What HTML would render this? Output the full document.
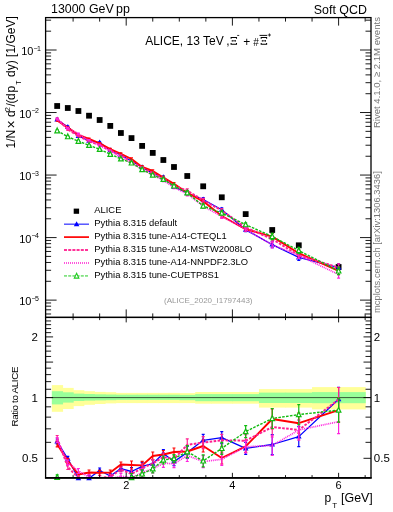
<!DOCTYPE html>
<html><head><meta charset="utf-8"><style>
html,body{margin:0;padding:0;background:#fff;}
svg{display:block;font-family:"Liberation Sans", sans-serif;will-change:transform;}
</style></head><body>
<svg width="393" height="512" viewBox="0 0 393 512">
<defs><clipPath id="cu"><rect x="45.6" y="17.6" width="325.40" height="299.80"/></clipPath><clipPath id="cl"><rect x="45.6" y="317.4" width="325.40" height="160.44"/></clipPath></defs>
<g clip-path="url(#cl)">
<rect x="51.86" y="385.10" width="11.22" height="26.70" fill="#ffff99"/>
<rect x="62.48" y="387.90" width="11.22" height="21.10" fill="#ffff99"/>
<rect x="73.10" y="390.20" width="11.22" height="15.90" fill="#ffff99"/>
<rect x="83.72" y="391.20" width="11.22" height="13.60" fill="#ffff99"/>
<rect x="94.34" y="391.90" width="11.22" height="12.10" fill="#ffff99"/>
<rect x="104.96" y="392.20" width="11.22" height="11.20" fill="#ffff99"/>
<rect x="115.58" y="392.90" width="11.22" height="10.20" fill="#ffff99"/>
<rect x="126.20" y="392.90" width="11.22" height="10.20" fill="#ffff99"/>
<rect x="136.82" y="392.90" width="11.22" height="10.20" fill="#ffff99"/>
<rect x="147.44" y="392.90" width="11.22" height="10.20" fill="#ffff99"/>
<rect x="158.06" y="392.90" width="11.22" height="10.20" fill="#ffff99"/>
<rect x="168.68" y="392.90" width="11.22" height="10.20" fill="#ffff99"/>
<rect x="179.30" y="393.10" width="16.53" height="10.00" fill="#ffff99"/>
<rect x="195.23" y="392.00" width="16.53" height="11.70" fill="#ffff99"/>
<rect x="211.16" y="392.00" width="21.84" height="11.70" fill="#ffff99"/>
<rect x="232.40" y="392.00" width="27.15" height="11.70" fill="#ffff99"/>
<rect x="258.95" y="389.10" width="27.15" height="18.50" fill="#ffff99"/>
<rect x="285.50" y="389.10" width="27.15" height="18.50" fill="#ffff99"/>
<rect x="312.05" y="387.10" width="53.70" height="22.30" fill="#ffff99"/>
<rect x="51.86" y="391.20" width="11.22" height="13.20" fill="#99ff99"/>
<rect x="62.48" y="392.30" width="11.22" height="10.30" fill="#99ff99"/>
<rect x="73.10" y="393.60" width="11.22" height="7.40" fill="#99ff99"/>
<rect x="83.72" y="394.00" width="11.22" height="6.60" fill="#99ff99"/>
<rect x="94.34" y="394.30" width="11.22" height="6.10" fill="#99ff99"/>
<rect x="104.96" y="394.50" width="11.22" height="5.70" fill="#99ff99"/>
<rect x="115.58" y="394.70" width="11.22" height="5.20" fill="#99ff99"/>
<rect x="126.20" y="394.70" width="11.22" height="5.20" fill="#99ff99"/>
<rect x="136.82" y="394.70" width="11.22" height="5.20" fill="#99ff99"/>
<rect x="147.44" y="394.70" width="11.22" height="5.20" fill="#99ff99"/>
<rect x="158.06" y="394.70" width="11.22" height="5.20" fill="#99ff99"/>
<rect x="168.68" y="394.70" width="11.22" height="5.20" fill="#99ff99"/>
<rect x="179.30" y="394.90" width="16.53" height="5.30" fill="#99ff99"/>
<rect x="195.23" y="394.10" width="16.53" height="7.10" fill="#99ff99"/>
<rect x="211.16" y="394.10" width="21.84" height="7.10" fill="#99ff99"/>
<rect x="232.40" y="394.10" width="27.15" height="7.10" fill="#99ff99"/>
<rect x="258.95" y="392.60" width="27.15" height="10.40" fill="#99ff99"/>
<rect x="285.50" y="392.60" width="27.15" height="10.40" fill="#99ff99"/>
<rect x="312.05" y="392.10" width="53.70" height="11.10" fill="#99ff99"/>
<line x1="45.6" y1="397.6" x2="371.0" y2="397.6" stroke="#000" stroke-width="1" stroke-opacity="0.65"/>
</g>
<rect x="54.27" y="103.10" width="5.8" height="5.8" fill="#000"/>
<rect x="64.89" y="105.10" width="5.8" height="5.8" fill="#000"/>
<rect x="75.51" y="108.10" width="5.8" height="5.8" fill="#000"/>
<rect x="86.13" y="112.80" width="5.8" height="5.8" fill="#000"/>
<rect x="96.75" y="117.10" width="5.8" height="5.8" fill="#000"/>
<rect x="107.37" y="123.00" width="5.8" height="5.8" fill="#000"/>
<rect x="117.99" y="130.10" width="5.8" height="5.8" fill="#000"/>
<rect x="128.61" y="135.20" width="5.8" height="5.8" fill="#000"/>
<rect x="139.23" y="143.00" width="5.8" height="5.8" fill="#000"/>
<rect x="149.85" y="150.00" width="5.8" height="5.8" fill="#000"/>
<rect x="160.47" y="157.10" width="5.8" height="5.8" fill="#000"/>
<rect x="171.09" y="164.10" width="5.8" height="5.8" fill="#000"/>
<rect x="184.36" y="173.10" width="5.8" height="5.8" fill="#000"/>
<rect x="200.29" y="183.40" width="5.8" height="5.8" fill="#000"/>
<rect x="218.88" y="194.40" width="5.8" height="5.8" fill="#000"/>
<rect x="242.78" y="211.20" width="5.8" height="5.8" fill="#000"/>
<rect x="269.33" y="227.10" width="5.8" height="5.8" fill="#000"/>
<rect x="295.88" y="242.40" width="5.8" height="5.8" fill="#000"/>
<rect x="335.70" y="264.10" width="5.8" height="5.8" fill="#000"/>
<g clip-path="url(#cl)">
<path d="M57.17,441.50 L67.79,458.80 L78.41,478.20 L89.03,478.20 L99.65,470.50 L110.27,476.00 L120.89,468.60 L131.51,471.50 L142.13,466.40 L152.75,463.70 L163.37,453.50 L173.99,461.60 L187.26,452.50 L203.19,440.30 L221.78,437.70 L245.68,448.40 L272.23,444.50 L298.78,436.60 L338.60,399.30" fill="none" stroke="#0000ff" stroke-width="1.3" stroke-linejoin="round"/>
<path d="M57.17,439.00 V444.00 M55.67,439.00 h3 M55.67,444.00 h3" stroke="#0000ff" stroke-width="1.2" fill="none"/>
<path d="M67.79,456.30 V461.30 M66.29,456.30 h3 M66.29,461.30 h3" stroke="#0000ff" stroke-width="1.2" fill="none"/>
<path d="M78.41,475.70 V480.70 M76.91,475.70 h3 M76.91,480.70 h3" stroke="#0000ff" stroke-width="1.2" fill="none"/>
<path d="M89.03,475.70 V480.70 M87.53,475.70 h3 M87.53,480.70 h3" stroke="#0000ff" stroke-width="1.2" fill="none"/>
<path d="M99.65,468.00 V473.00 M98.15,468.00 h3 M98.15,473.00 h3" stroke="#0000ff" stroke-width="1.2" fill="none"/>
<path d="M110.27,473.50 V478.50 M108.77,473.50 h3 M108.77,478.50 h3" stroke="#0000ff" stroke-width="1.2" fill="none"/>
<path d="M120.89,466.10 V471.10 M119.39,466.10 h3 M119.39,471.10 h3" stroke="#0000ff" stroke-width="1.2" fill="none"/>
<path d="M131.51,467.50 V475.50 M130.01,467.50 h3 M130.01,475.50 h3" stroke="#0000ff" stroke-width="1.2" fill="none"/>
<path d="M142.13,462.40 V470.40 M140.63,462.40 h3 M140.63,470.40 h3" stroke="#0000ff" stroke-width="1.2" fill="none"/>
<path d="M152.75,459.70 V467.70 M151.25,459.70 h3 M151.25,467.70 h3" stroke="#0000ff" stroke-width="1.2" fill="none"/>
<path d="M163.37,449.50 V457.50 M161.87,449.50 h3 M161.87,457.50 h3" stroke="#0000ff" stroke-width="1.2" fill="none"/>
<path d="M173.99,457.60 V465.60 M172.49,457.60 h3 M172.49,465.60 h3" stroke="#0000ff" stroke-width="1.2" fill="none"/>
<path d="M187.26,446.50 V458.50 M185.76,446.50 h3 M185.76,458.50 h3" stroke="#0000ff" stroke-width="1.2" fill="none"/>
<path d="M203.19,434.30 V446.30 M201.69,434.30 h3 M201.69,446.30 h3" stroke="#0000ff" stroke-width="1.2" fill="none"/>
<path d="M221.78,431.70 V443.70 M220.28,431.70 h3 M220.28,443.70 h3" stroke="#0000ff" stroke-width="1.2" fill="none"/>
<path d="M245.68,442.40 V454.40 M244.18,442.40 h3 M244.18,454.40 h3" stroke="#0000ff" stroke-width="1.2" fill="none"/>
<path d="M272.23,434.50 V454.50 M270.73,434.50 h3 M270.73,454.50 h3" stroke="#0000ff" stroke-width="1.2" fill="none"/>
<path d="M298.78,426.60 V446.60 M297.28,426.60 h3 M297.28,446.60 h3" stroke="#0000ff" stroke-width="1.2" fill="none"/>
<path d="M338.60,387.30 V411.30 M337.10,387.30 h3 M337.10,411.30 h3" stroke="#0000ff" stroke-width="1.2" fill="none"/>
</g>
<path d="M57.17,438.50 L59.97,443.50 L54.37,443.50 Z" fill="#0000ff"/>
<path d="M67.79,455.80 L70.59,460.80 L64.99,460.80 Z" fill="#0000ff"/>
<path d="M78.41,475.20 L81.21,480.20 L75.61,480.20 Z" fill="#0000ff"/>
<path d="M89.03,475.20 L91.83,480.20 L86.23,480.20 Z" fill="#0000ff"/>
<path d="M99.65,467.50 L102.45,472.50 L96.85,472.50 Z" fill="#0000ff"/>
<path d="M110.27,473.00 L113.07,478.00 L107.47,478.00 Z" fill="#0000ff"/>
<path d="M120.89,465.60 L123.69,470.60 L118.09,470.60 Z" fill="#0000ff"/>
<path d="M131.51,468.50 L134.31,473.50 L128.71,473.50 Z" fill="#0000ff"/>
<path d="M142.13,463.40 L144.93,468.40 L139.33,468.40 Z" fill="#0000ff"/>
<path d="M152.75,460.70 L155.55,465.70 L149.95,465.70 Z" fill="#0000ff"/>
<path d="M163.37,450.50 L166.17,455.50 L160.57,455.50 Z" fill="#0000ff"/>
<path d="M173.99,458.60 L176.79,463.60 L171.19,463.60 Z" fill="#0000ff"/>
<path d="M187.26,449.50 L190.06,454.50 L184.46,454.50 Z" fill="#0000ff"/>
<path d="M203.19,437.30 L206.00,442.30 L200.39,442.30 Z" fill="#0000ff"/>
<path d="M221.78,434.70 L224.58,439.70 L218.98,439.70 Z" fill="#0000ff"/>
<path d="M245.68,445.40 L248.48,450.40 L242.88,450.40 Z" fill="#0000ff"/>
<path d="M272.23,441.50 L275.03,446.50 L269.43,446.50 Z" fill="#0000ff"/>
<path d="M298.78,433.60 L301.58,438.60 L295.98,438.60 Z" fill="#0000ff"/>
<path d="M338.60,396.30 L341.40,401.30 L335.80,401.30 Z" fill="#0000ff"/>
<g clip-path="url(#cl)">
<path d="M57.17,444.30 L67.79,460.80 L78.41,474.50 L89.03,472.50 L99.65,472.80 L110.27,472.50 L120.89,464.50 L131.51,465.00 L142.13,465.40 L152.75,456.00 L163.37,454.50 L173.99,452.00 L187.26,451.50 L203.19,446.00 L221.78,458.00 L245.68,446.40 L272.23,419.00 L298.78,423.20 L338.60,410.10" fill="none" stroke="#ff0000" stroke-width="1.9" stroke-linejoin="round"/>
<path d="M57.17,441.80 V446.80 M55.67,441.80 h3 M55.67,446.80 h3" stroke="#ff0000" stroke-width="1.2" fill="none"/>
<path d="M67.79,458.30 V463.30 M66.29,458.30 h3 M66.29,463.30 h3" stroke="#ff0000" stroke-width="1.2" fill="none"/>
<path d="M78.41,472.00 V477.00 M76.91,472.00 h3 M76.91,477.00 h3" stroke="#ff0000" stroke-width="1.2" fill="none"/>
<path d="M89.03,470.00 V475.00 M87.53,470.00 h3 M87.53,475.00 h3" stroke="#ff0000" stroke-width="1.2" fill="none"/>
<path d="M99.65,470.30 V475.30 M98.15,470.30 h3 M98.15,475.30 h3" stroke="#ff0000" stroke-width="1.2" fill="none"/>
<path d="M110.27,470.00 V475.00 M108.77,470.00 h3 M108.77,475.00 h3" stroke="#ff0000" stroke-width="1.2" fill="none"/>
<path d="M120.89,462.00 V467.00 M119.39,462.00 h3 M119.39,467.00 h3" stroke="#ff0000" stroke-width="1.2" fill="none"/>
<path d="M131.51,461.00 V469.00 M130.01,461.00 h3 M130.01,469.00 h3" stroke="#ff0000" stroke-width="1.2" fill="none"/>
<path d="M142.13,461.40 V469.40 M140.63,461.40 h3 M140.63,469.40 h3" stroke="#ff0000" stroke-width="1.2" fill="none"/>
<path d="M152.75,452.00 V460.00 M151.25,452.00 h3 M151.25,460.00 h3" stroke="#ff0000" stroke-width="1.2" fill="none"/>
<path d="M163.37,450.50 V458.50 M161.87,450.50 h3 M161.87,458.50 h3" stroke="#ff0000" stroke-width="1.2" fill="none"/>
<path d="M173.99,448.00 V456.00 M172.49,448.00 h3 M172.49,456.00 h3" stroke="#ff0000" stroke-width="1.2" fill="none"/>
<path d="M187.26,445.50 V457.50 M185.76,445.50 h3 M185.76,457.50 h3" stroke="#ff0000" stroke-width="1.2" fill="none"/>
<path d="M203.19,440.00 V452.00 M201.69,440.00 h3 M201.69,452.00 h3" stroke="#ff0000" stroke-width="1.2" fill="none"/>
<path d="M221.78,452.00 V464.00 M220.28,452.00 h3 M220.28,464.00 h3" stroke="#ff0000" stroke-width="1.2" fill="none"/>
<path d="M245.68,440.40 V452.40 M244.18,440.40 h3 M244.18,452.40 h3" stroke="#ff0000" stroke-width="1.2" fill="none"/>
<path d="M272.23,409.00 V429.00 M270.73,409.00 h3 M270.73,429.00 h3" stroke="#ff0000" stroke-width="1.2" fill="none"/>
<path d="M298.78,413.20 V433.20 M297.28,413.20 h3 M297.28,433.20 h3" stroke="#ff0000" stroke-width="1.2" fill="none"/>
<path d="M338.60,398.10 V422.10 M337.10,398.10 h3 M337.10,422.10 h3" stroke="#ff0000" stroke-width="1.2" fill="none"/>
</g>
<g clip-path="url(#cl)">
<path d="M57.17,438.00 L67.79,467.00 L78.41,478.00 L89.03,480.00 L99.65,478.00 L110.27,477.00 L120.89,469.50 L131.51,474.00 L142.13,468.00 L152.75,463.50 L163.37,457.00 L173.99,459.00 L187.26,444.80 L203.19,442.60 L221.78,440.30 L245.68,440.70 L272.23,427.00 L298.78,430.00 L338.60,399.50" fill="none" stroke="#ff2090" stroke-width="2.0" stroke-dasharray="2.6,1.4" stroke-linejoin="round"/>
<path d="M57.17,435.50 V440.50 M55.67,435.50 h3 M55.67,440.50 h3" stroke="#ff2090" stroke-width="1.2" fill="none"/>
<path d="M67.79,464.50 V469.50 M66.29,464.50 h3 M66.29,469.50 h3" stroke="#ff2090" stroke-width="1.2" fill="none"/>
<path d="M78.41,475.50 V480.50 M76.91,475.50 h3 M76.91,480.50 h3" stroke="#ff2090" stroke-width="1.2" fill="none"/>
<path d="M89.03,477.50 V482.50 M87.53,477.50 h3 M87.53,482.50 h3" stroke="#ff2090" stroke-width="1.2" fill="none"/>
<path d="M99.65,475.50 V480.50 M98.15,475.50 h3 M98.15,480.50 h3" stroke="#ff2090" stroke-width="1.2" fill="none"/>
<path d="M110.27,474.50 V479.50 M108.77,474.50 h3 M108.77,479.50 h3" stroke="#ff2090" stroke-width="1.2" fill="none"/>
<path d="M120.89,467.00 V472.00 M119.39,467.00 h3 M119.39,472.00 h3" stroke="#ff2090" stroke-width="1.2" fill="none"/>
<path d="M131.51,470.00 V478.00 M130.01,470.00 h3 M130.01,478.00 h3" stroke="#ff2090" stroke-width="1.2" fill="none"/>
<path d="M142.13,464.00 V472.00 M140.63,464.00 h3 M140.63,472.00 h3" stroke="#ff2090" stroke-width="1.2" fill="none"/>
<path d="M152.75,459.50 V467.50 M151.25,459.50 h3 M151.25,467.50 h3" stroke="#ff2090" stroke-width="1.2" fill="none"/>
<path d="M163.37,453.00 V461.00 M161.87,453.00 h3 M161.87,461.00 h3" stroke="#ff2090" stroke-width="1.2" fill="none"/>
<path d="M173.99,455.00 V463.00 M172.49,455.00 h3 M172.49,463.00 h3" stroke="#ff2090" stroke-width="1.2" fill="none"/>
<path d="M187.26,438.80 V450.80 M185.76,438.80 h3 M185.76,450.80 h3" stroke="#ff2090" stroke-width="1.2" fill="none"/>
<path d="M203.19,436.60 V448.60 M201.69,436.60 h3 M201.69,448.60 h3" stroke="#ff2090" stroke-width="1.2" fill="none"/>
<path d="M221.78,434.30 V446.30 M220.28,434.30 h3 M220.28,446.30 h3" stroke="#ff2090" stroke-width="1.2" fill="none"/>
<path d="M245.68,434.70 V446.70 M244.18,434.70 h3 M244.18,446.70 h3" stroke="#ff2090" stroke-width="1.2" fill="none"/>
<path d="M272.23,417.00 V437.00 M270.73,417.00 h3 M270.73,437.00 h3" stroke="#ff2090" stroke-width="1.2" fill="none"/>
<path d="M298.78,420.00 V440.00 M297.28,420.00 h3 M297.28,440.00 h3" stroke="#ff2090" stroke-width="1.2" fill="none"/>
<path d="M338.60,387.50 V411.50 M337.10,387.50 h3 M337.10,411.50 h3" stroke="#ff2090" stroke-width="1.2" fill="none"/>
</g>
<g clip-path="url(#cl)">
<path d="M57.17,440.00 L67.79,462.60 L78.41,471.00 L89.03,477.00 L99.65,480.00 L110.27,479.00 L120.89,476.00 L131.51,478.00 L142.13,472.50 L152.75,468.90 L163.37,463.30 L173.99,463.70 L187.26,455.50 L203.19,461.60 L221.78,459.30 L245.68,446.80 L272.23,445.50 L298.78,430.00 L338.60,421.70" fill="none" stroke="#ff22dd" stroke-width="1.7" stroke-dasharray="1,0.9" stroke-linejoin="round"/>
<path d="M57.17,437.50 V442.50 M55.67,437.50 h3 M55.67,442.50 h3" stroke="#ff22dd" stroke-width="1.2" fill="none"/>
<path d="M67.79,460.10 V465.10 M66.29,460.10 h3 M66.29,465.10 h3" stroke="#ff22dd" stroke-width="1.2" fill="none"/>
<path d="M78.41,468.50 V473.50 M76.91,468.50 h3 M76.91,473.50 h3" stroke="#ff22dd" stroke-width="1.2" fill="none"/>
<path d="M89.03,474.50 V479.50 M87.53,474.50 h3 M87.53,479.50 h3" stroke="#ff22dd" stroke-width="1.2" fill="none"/>
<path d="M99.65,477.50 V482.50 M98.15,477.50 h3 M98.15,482.50 h3" stroke="#ff22dd" stroke-width="1.2" fill="none"/>
<path d="M110.27,476.50 V481.50 M108.77,476.50 h3 M108.77,481.50 h3" stroke="#ff22dd" stroke-width="1.2" fill="none"/>
<path d="M120.89,473.50 V478.50 M119.39,473.50 h3 M119.39,478.50 h3" stroke="#ff22dd" stroke-width="1.2" fill="none"/>
<path d="M131.51,474.00 V482.00 M130.01,474.00 h3 M130.01,482.00 h3" stroke="#ff22dd" stroke-width="1.2" fill="none"/>
<path d="M142.13,468.50 V476.50 M140.63,468.50 h3 M140.63,476.50 h3" stroke="#ff22dd" stroke-width="1.2" fill="none"/>
<path d="M152.75,464.90 V472.90 M151.25,464.90 h3 M151.25,472.90 h3" stroke="#ff22dd" stroke-width="1.2" fill="none"/>
<path d="M163.37,459.30 V467.30 M161.87,459.30 h3 M161.87,467.30 h3" stroke="#ff22dd" stroke-width="1.2" fill="none"/>
<path d="M173.99,459.70 V467.70 M172.49,459.70 h3 M172.49,467.70 h3" stroke="#ff22dd" stroke-width="1.2" fill="none"/>
<path d="M187.26,449.50 V461.50 M185.76,449.50 h3 M185.76,461.50 h3" stroke="#ff22dd" stroke-width="1.2" fill="none"/>
<path d="M203.19,455.60 V467.60 M201.69,455.60 h3 M201.69,467.60 h3" stroke="#ff22dd" stroke-width="1.2" fill="none"/>
<path d="M221.78,453.30 V465.30 M220.28,453.30 h3 M220.28,465.30 h3" stroke="#ff22dd" stroke-width="1.2" fill="none"/>
<path d="M245.68,440.80 V452.80 M244.18,440.80 h3 M244.18,452.80 h3" stroke="#ff22dd" stroke-width="1.2" fill="none"/>
<path d="M272.23,435.50 V455.50 M270.73,435.50 h3 M270.73,455.50 h3" stroke="#ff22dd" stroke-width="1.2" fill="none"/>
<path d="M298.78,420.00 V440.00 M297.28,420.00 h3 M297.28,440.00 h3" stroke="#ff22dd" stroke-width="1.2" fill="none"/>
<path d="M338.60,409.70 V433.70 M337.10,409.70 h3 M337.10,433.70 h3" stroke="#ff22dd" stroke-width="1.2" fill="none"/>
</g>
<g clip-path="url(#cl)">
<path d="M57.17,477.30 L67.79,490.00 L78.41,495.00 L89.03,493.00 L99.65,492.00 L110.27,489.00 L120.89,481.00 L131.51,477.50 L142.13,473.90 L152.75,468.80 L163.37,460.00 L173.99,458.60 L187.26,451.70 L203.19,460.90 L221.78,448.40 L245.68,431.60 L272.23,418.50 L298.78,414.60 L338.60,410.10" fill="none" stroke="#11bb11" stroke-width="1.4" stroke-dasharray="2.6,1.3" stroke-linejoin="round"/>
<path d="M57.17,474.80 V479.80 M55.67,474.80 h3 M55.67,479.80 h3" stroke="#11bb11" stroke-width="1.2" fill="none"/>
<path d="M67.79,487.50 V492.50 M66.29,487.50 h3 M66.29,492.50 h3" stroke="#11bb11" stroke-width="1.2" fill="none"/>
<path d="M78.41,492.50 V497.50 M76.91,492.50 h3 M76.91,497.50 h3" stroke="#11bb11" stroke-width="1.2" fill="none"/>
<path d="M89.03,490.50 V495.50 M87.53,490.50 h3 M87.53,495.50 h3" stroke="#11bb11" stroke-width="1.2" fill="none"/>
<path d="M99.65,489.50 V494.50 M98.15,489.50 h3 M98.15,494.50 h3" stroke="#11bb11" stroke-width="1.2" fill="none"/>
<path d="M110.27,486.50 V491.50 M108.77,486.50 h3 M108.77,491.50 h3" stroke="#11bb11" stroke-width="1.2" fill="none"/>
<path d="M120.89,478.50 V483.50 M119.39,478.50 h3 M119.39,483.50 h3" stroke="#11bb11" stroke-width="1.2" fill="none"/>
<path d="M131.51,473.50 V481.50 M130.01,473.50 h3 M130.01,481.50 h3" stroke="#11bb11" stroke-width="1.2" fill="none"/>
<path d="M142.13,469.90 V477.90 M140.63,469.90 h3 M140.63,477.90 h3" stroke="#11bb11" stroke-width="1.2" fill="none"/>
<path d="M152.75,464.80 V472.80 M151.25,464.80 h3 M151.25,472.80 h3" stroke="#11bb11" stroke-width="1.2" fill="none"/>
<path d="M163.37,456.00 V464.00 M161.87,456.00 h3 M161.87,464.00 h3" stroke="#11bb11" stroke-width="1.2" fill="none"/>
<path d="M173.99,454.60 V462.60 M172.49,454.60 h3 M172.49,462.60 h3" stroke="#11bb11" stroke-width="1.2" fill="none"/>
<path d="M187.26,445.70 V457.70 M185.76,445.70 h3 M185.76,457.70 h3" stroke="#11bb11" stroke-width="1.2" fill="none"/>
<path d="M203.19,454.90 V466.90 M201.69,454.90 h3 M201.69,466.90 h3" stroke="#11bb11" stroke-width="1.2" fill="none"/>
<path d="M221.78,442.40 V454.40 M220.28,442.40 h3 M220.28,454.40 h3" stroke="#11bb11" stroke-width="1.2" fill="none"/>
<path d="M245.68,425.60 V437.60 M244.18,425.60 h3 M244.18,437.60 h3" stroke="#11bb11" stroke-width="1.2" fill="none"/>
<path d="M272.23,408.50 V428.50 M270.73,408.50 h3 M270.73,428.50 h3" stroke="#11bb11" stroke-width="1.2" fill="none"/>
<path d="M298.78,404.60 V424.60 M297.28,404.60 h3 M297.28,424.60 h3" stroke="#11bb11" stroke-width="1.2" fill="none"/>
<path d="M338.60,398.10 V422.10 M337.10,398.10 h3 M337.10,422.10 h3" stroke="#11bb11" stroke-width="1.2" fill="none"/>
</g>
<path d="M57.17,474.60 L59.47,479.40 L54.87,479.40 Z" fill="#fff" stroke="#11bb11" stroke-width="1.2"/>
<path d="M131.51,474.80 L133.81,479.60 L129.21,479.60 Z" fill="#fff" stroke="#11bb11" stroke-width="1.2"/>
<path d="M142.13,471.20 L144.43,476.00 L139.83,476.00 Z" fill="#fff" stroke="#11bb11" stroke-width="1.2"/>
<path d="M152.75,466.10 L155.05,470.90 L150.45,470.90 Z" fill="#fff" stroke="#11bb11" stroke-width="1.2"/>
<path d="M163.37,457.30 L165.67,462.10 L161.07,462.10 Z" fill="#fff" stroke="#11bb11" stroke-width="1.2"/>
<path d="M173.99,455.90 L176.29,460.70 L171.69,460.70 Z" fill="#fff" stroke="#11bb11" stroke-width="1.2"/>
<path d="M187.26,449.00 L189.56,453.80 L184.96,453.80 Z" fill="#fff" stroke="#11bb11" stroke-width="1.2"/>
<path d="M203.19,458.20 L205.50,463.00 L200.89,463.00 Z" fill="#fff" stroke="#11bb11" stroke-width="1.2"/>
<path d="M221.78,445.70 L224.08,450.50 L219.48,450.50 Z" fill="#fff" stroke="#11bb11" stroke-width="1.2"/>
<path d="M245.68,428.90 L247.98,433.70 L243.38,433.70 Z" fill="#fff" stroke="#11bb11" stroke-width="1.2"/>
<path d="M272.23,415.80 L274.53,420.60 L269.93,420.60 Z" fill="#fff" stroke="#11bb11" stroke-width="1.2"/>
<path d="M298.78,411.90 L301.08,416.70 L296.48,416.70 Z" fill="#fff" stroke="#11bb11" stroke-width="1.2"/>
<path d="M338.60,407.40 L340.90,412.20 L336.30,412.20 Z" fill="#fff" stroke="#11bb11" stroke-width="1.2"/>
<g clip-path="url(#cu)">
<path d="M57.17,119.61 L67.79,126.98 L78.41,135.99 L89.03,140.69 L99.65,142.61 L110.27,150.21 L120.89,155.02 L131.51,161.02 L142.13,167.23 L152.75,173.40 L163.37,177.33 L173.99,186.85 L187.26,193.02 L203.19,199.54 L221.78,209.74 L245.68,229.85 L272.23,244.54 L298.78,257.39 L338.60,267.53" fill="none" stroke="#0000ff" stroke-width="1.3" stroke-linejoin="round"/>
<path d="M57.17,118.84 V120.39 M55.67,118.84 h3 M55.67,120.39 h3" stroke="#0000ff" stroke-width="1.2" fill="none"/>
<path d="M67.79,126.20 V127.75 M66.29,126.20 h3 M66.29,127.75 h3" stroke="#0000ff" stroke-width="1.2" fill="none"/>
<path d="M78.41,135.22 V136.77 M76.91,135.22 h3 M76.91,136.77 h3" stroke="#0000ff" stroke-width="1.2" fill="none"/>
<path d="M89.03,139.92 V141.47 M87.53,139.92 h3 M87.53,141.47 h3" stroke="#0000ff" stroke-width="1.2" fill="none"/>
<path d="M99.65,141.83 V143.38 M98.15,141.83 h3 M98.15,143.38 h3" stroke="#0000ff" stroke-width="1.2" fill="none"/>
<path d="M110.27,149.44 V150.99 M108.77,149.44 h3 M108.77,150.99 h3" stroke="#0000ff" stroke-width="1.2" fill="none"/>
<path d="M120.89,154.24 V155.79 M119.39,154.24 h3 M119.39,155.79 h3" stroke="#0000ff" stroke-width="1.2" fill="none"/>
<path d="M131.51,159.78 V162.26 M130.01,159.78 h3 M130.01,162.26 h3" stroke="#0000ff" stroke-width="1.2" fill="none"/>
<path d="M142.13,165.99 V168.47 M140.63,165.99 h3 M140.63,168.47 h3" stroke="#0000ff" stroke-width="1.2" fill="none"/>
<path d="M152.75,172.16 V174.64 M151.25,172.16 h3 M151.25,174.64 h3" stroke="#0000ff" stroke-width="1.2" fill="none"/>
<path d="M163.37,176.09 V178.57 M161.87,176.09 h3 M161.87,178.57 h3" stroke="#0000ff" stroke-width="1.2" fill="none"/>
<path d="M173.99,185.61 V188.09 M172.49,185.61 h3 M172.49,188.09 h3" stroke="#0000ff" stroke-width="1.2" fill="none"/>
<path d="M187.26,191.16 V194.88 M185.76,191.16 h3 M185.76,194.88 h3" stroke="#0000ff" stroke-width="1.2" fill="none"/>
<path d="M203.19,197.68 V201.40 M201.69,197.68 h3 M201.69,201.40 h3" stroke="#0000ff" stroke-width="1.2" fill="none"/>
<path d="M221.78,207.88 V211.60 M220.28,207.88 h3 M220.28,211.60 h3" stroke="#0000ff" stroke-width="1.2" fill="none"/>
<path d="M245.68,227.99 V231.71 M244.18,227.99 h3 M244.18,231.71 h3" stroke="#0000ff" stroke-width="1.2" fill="none"/>
<path d="M272.23,241.44 V247.64 M270.73,241.44 h3 M270.73,247.64 h3" stroke="#0000ff" stroke-width="1.2" fill="none"/>
<path d="M298.78,254.29 V260.49 M297.28,254.29 h3 M297.28,260.49 h3" stroke="#0000ff" stroke-width="1.2" fill="none"/>
<path d="M338.60,263.81 V271.25 M337.10,263.81 h3 M337.10,271.25 h3" stroke="#0000ff" stroke-width="1.2" fill="none"/>
</g>
<path d="M57.17,116.61 L59.97,121.61 L54.37,121.61 Z" fill="#0000ff"/>
<path d="M67.79,123.98 L70.59,128.98 L64.99,128.98 Z" fill="#0000ff"/>
<path d="M78.41,132.99 L81.21,137.99 L75.61,137.99 Z" fill="#0000ff"/>
<path d="M89.03,137.69 L91.83,142.69 L86.23,142.69 Z" fill="#0000ff"/>
<path d="M99.65,139.61 L102.45,144.61 L96.85,144.61 Z" fill="#0000ff"/>
<path d="M110.27,147.21 L113.07,152.21 L107.47,152.21 Z" fill="#0000ff"/>
<path d="M120.89,152.02 L123.69,157.02 L118.09,157.02 Z" fill="#0000ff"/>
<path d="M131.51,158.02 L134.31,163.02 L128.71,163.02 Z" fill="#0000ff"/>
<path d="M142.13,164.23 L144.93,169.23 L139.33,169.23 Z" fill="#0000ff"/>
<path d="M152.75,170.40 L155.55,175.40 L149.95,175.40 Z" fill="#0000ff"/>
<path d="M163.37,174.33 L166.17,179.33 L160.57,179.33 Z" fill="#0000ff"/>
<path d="M173.99,183.85 L176.79,188.85 L171.19,188.85 Z" fill="#0000ff"/>
<path d="M187.26,190.02 L190.06,195.02 L184.46,195.02 Z" fill="#0000ff"/>
<path d="M203.19,196.54 L206.00,201.54 L200.39,201.54 Z" fill="#0000ff"/>
<path d="M221.78,206.74 L224.58,211.74 L218.98,211.74 Z" fill="#0000ff"/>
<path d="M245.68,226.85 L248.48,231.85 L242.88,231.85 Z" fill="#0000ff"/>
<path d="M272.23,241.54 L275.03,246.54 L269.43,246.54 Z" fill="#0000ff"/>
<path d="M298.78,254.39 L301.58,259.39 L295.98,259.39 Z" fill="#0000ff"/>
<path d="M338.60,264.53 L341.40,269.53 L335.80,269.53 Z" fill="#0000ff"/>
<g clip-path="url(#cu)">
<path d="M57.17,120.48 L67.79,127.60 L78.41,134.85 L89.03,138.93 L99.65,143.32 L110.27,149.13 L120.89,153.75 L131.51,159.00 L142.13,166.92 L152.75,171.01 L163.37,177.64 L173.99,183.87 L187.26,192.71 L203.19,201.31 L221.78,216.03 L245.68,229.23 L272.23,236.64 L298.78,253.24 L338.60,270.88" fill="none" stroke="#ff0000" stroke-width="1.9" stroke-linejoin="round"/>
<path d="M57.17,119.71 V121.26 M55.67,119.71 h3 M55.67,121.26 h3" stroke="#ff0000" stroke-width="1.2" fill="none"/>
<path d="M67.79,126.82 V128.37 M66.29,126.82 h3 M66.29,128.37 h3" stroke="#ff0000" stroke-width="1.2" fill="none"/>
<path d="M78.41,134.07 V135.62 M76.91,134.07 h3 M76.91,135.62 h3" stroke="#ff0000" stroke-width="1.2" fill="none"/>
<path d="M89.03,138.15 V139.70 M87.53,138.15 h3 M87.53,139.70 h3" stroke="#ff0000" stroke-width="1.2" fill="none"/>
<path d="M99.65,142.54 V144.09 M98.15,142.54 h3 M98.15,144.09 h3" stroke="#ff0000" stroke-width="1.2" fill="none"/>
<path d="M110.27,148.35 V149.90 M108.77,148.35 h3 M108.77,149.90 h3" stroke="#ff0000" stroke-width="1.2" fill="none"/>
<path d="M120.89,152.97 V154.52 M119.39,152.97 h3 M119.39,154.52 h3" stroke="#ff0000" stroke-width="1.2" fill="none"/>
<path d="M131.51,157.76 V160.24 M130.01,157.76 h3 M130.01,160.24 h3" stroke="#ff0000" stroke-width="1.2" fill="none"/>
<path d="M142.13,165.68 V168.16 M140.63,165.68 h3 M140.63,168.16 h3" stroke="#ff0000" stroke-width="1.2" fill="none"/>
<path d="M152.75,169.77 V172.25 M151.25,169.77 h3 M151.25,172.25 h3" stroke="#ff0000" stroke-width="1.2" fill="none"/>
<path d="M163.37,176.40 V178.88 M161.87,176.40 h3 M161.87,178.88 h3" stroke="#ff0000" stroke-width="1.2" fill="none"/>
<path d="M173.99,182.63 V185.11 M172.49,182.63 h3 M172.49,185.11 h3" stroke="#ff0000" stroke-width="1.2" fill="none"/>
<path d="M187.26,190.85 V194.57 M185.76,190.85 h3 M185.76,194.57 h3" stroke="#ff0000" stroke-width="1.2" fill="none"/>
<path d="M203.19,199.45 V203.17 M201.69,199.45 h3 M201.69,203.17 h3" stroke="#ff0000" stroke-width="1.2" fill="none"/>
<path d="M221.78,214.17 V217.89 M220.28,214.17 h3 M220.28,217.89 h3" stroke="#ff0000" stroke-width="1.2" fill="none"/>
<path d="M245.68,227.37 V231.09 M244.18,227.37 h3 M244.18,231.09 h3" stroke="#ff0000" stroke-width="1.2" fill="none"/>
<path d="M272.23,233.54 V239.74 M270.73,233.54 h3 M270.73,239.74 h3" stroke="#ff0000" stroke-width="1.2" fill="none"/>
<path d="M298.78,250.14 V256.34 M297.28,250.14 h3 M297.28,256.34 h3" stroke="#ff0000" stroke-width="1.2" fill="none"/>
<path d="M338.60,267.16 V274.60 M337.10,267.16 h3 M337.10,274.60 h3" stroke="#ff0000" stroke-width="1.2" fill="none"/>
</g>
<g clip-path="url(#cu)">
<path d="M57.17,118.53 L67.79,129.52 L78.41,135.93 L89.03,141.25 L99.65,144.93 L110.27,150.52 L120.89,155.30 L131.51,161.79 L142.13,167.73 L152.75,173.34 L163.37,178.42 L173.99,186.04 L187.26,190.64 L203.19,200.25 L221.78,210.54 L245.68,227.47 L272.23,239.12 L298.78,255.35 L338.60,267.59" fill="none" stroke="#ff2090" stroke-width="2.0" stroke-dasharray="2.6,1.4" stroke-linejoin="round"/>
<path d="M57.17,117.75 V119.30 M55.67,117.75 h3 M55.67,119.30 h3" stroke="#ff2090" stroke-width="1.2" fill="none"/>
<path d="M67.79,128.75 V130.30 M66.29,128.75 h3 M66.29,130.30 h3" stroke="#ff2090" stroke-width="1.2" fill="none"/>
<path d="M78.41,135.16 V136.71 M76.91,135.16 h3 M76.91,136.71 h3" stroke="#ff2090" stroke-width="1.2" fill="none"/>
<path d="M89.03,140.48 V142.03 M87.53,140.48 h3 M87.53,142.03 h3" stroke="#ff2090" stroke-width="1.2" fill="none"/>
<path d="M99.65,144.16 V145.71 M98.15,144.16 h3 M98.15,145.71 h3" stroke="#ff2090" stroke-width="1.2" fill="none"/>
<path d="M110.27,149.75 V151.30 M108.77,149.75 h3 M108.77,151.30 h3" stroke="#ff2090" stroke-width="1.2" fill="none"/>
<path d="M120.89,154.52 V156.07 M119.39,154.52 h3 M119.39,156.07 h3" stroke="#ff2090" stroke-width="1.2" fill="none"/>
<path d="M131.51,160.55 V163.03 M130.01,160.55 h3 M130.01,163.03 h3" stroke="#ff2090" stroke-width="1.2" fill="none"/>
<path d="M142.13,166.49 V168.97 M140.63,166.49 h3 M140.63,168.97 h3" stroke="#ff2090" stroke-width="1.2" fill="none"/>
<path d="M152.75,172.10 V174.58 M151.25,172.10 h3 M151.25,174.58 h3" stroke="#ff2090" stroke-width="1.2" fill="none"/>
<path d="M163.37,177.18 V179.66 M161.87,177.18 h3 M161.87,179.66 h3" stroke="#ff2090" stroke-width="1.2" fill="none"/>
<path d="M173.99,184.80 V187.28 M172.49,184.80 h3 M172.49,187.28 h3" stroke="#ff2090" stroke-width="1.2" fill="none"/>
<path d="M187.26,188.78 V192.50 M185.76,188.78 h3 M185.76,192.50 h3" stroke="#ff2090" stroke-width="1.2" fill="none"/>
<path d="M203.19,198.39 V202.11 M201.69,198.39 h3 M201.69,202.11 h3" stroke="#ff2090" stroke-width="1.2" fill="none"/>
<path d="M221.78,208.68 V212.40 M220.28,208.68 h3 M220.28,212.40 h3" stroke="#ff2090" stroke-width="1.2" fill="none"/>
<path d="M245.68,225.61 V229.33 M244.18,225.61 h3 M244.18,229.33 h3" stroke="#ff2090" stroke-width="1.2" fill="none"/>
<path d="M272.23,236.02 V242.22 M270.73,236.02 h3 M270.73,242.22 h3" stroke="#ff2090" stroke-width="1.2" fill="none"/>
<path d="M298.78,252.25 V258.45 M297.28,252.25 h3 M297.28,258.45 h3" stroke="#ff2090" stroke-width="1.2" fill="none"/>
<path d="M338.60,263.87 V271.31 M337.10,263.87 h3 M337.10,271.31 h3" stroke="#ff2090" stroke-width="1.2" fill="none"/>
</g>
<g clip-path="url(#cu)">
<path d="M57.17,119.15 L67.79,128.16 L78.41,133.76 L89.03,140.32 L99.65,145.55 L110.27,151.14 L120.89,157.31 L131.51,163.03 L142.13,169.13 L152.75,175.01 L163.37,180.37 L173.99,187.50 L187.26,193.95 L203.19,206.15 L221.78,216.43 L245.68,229.36 L272.23,244.85 L298.78,255.35 L338.60,274.47" fill="none" stroke="#ff22dd" stroke-width="1.7" stroke-dasharray="1,0.9" stroke-linejoin="round"/>
<path d="M57.17,118.37 V119.92 M55.67,118.37 h3 M55.67,119.92 h3" stroke="#ff22dd" stroke-width="1.2" fill="none"/>
<path d="M67.79,127.38 V128.93 M66.29,127.38 h3 M66.29,128.93 h3" stroke="#ff22dd" stroke-width="1.2" fill="none"/>
<path d="M78.41,132.99 V134.54 M76.91,132.99 h3 M76.91,134.54 h3" stroke="#ff22dd" stroke-width="1.2" fill="none"/>
<path d="M89.03,139.55 V141.10 M87.53,139.55 h3 M87.53,141.10 h3" stroke="#ff22dd" stroke-width="1.2" fill="none"/>
<path d="M99.65,144.78 V146.33 M98.15,144.78 h3 M98.15,146.33 h3" stroke="#ff22dd" stroke-width="1.2" fill="none"/>
<path d="M110.27,150.37 V151.92 M108.77,150.37 h3 M108.77,151.92 h3" stroke="#ff22dd" stroke-width="1.2" fill="none"/>
<path d="M120.89,156.54 V158.09 M119.39,156.54 h3 M119.39,158.09 h3" stroke="#ff22dd" stroke-width="1.2" fill="none"/>
<path d="M131.51,161.79 V164.27 M130.01,161.79 h3 M130.01,164.27 h3" stroke="#ff22dd" stroke-width="1.2" fill="none"/>
<path d="M142.13,167.89 V170.37 M140.63,167.89 h3 M140.63,170.37 h3" stroke="#ff22dd" stroke-width="1.2" fill="none"/>
<path d="M152.75,173.77 V176.25 M151.25,173.77 h3 M151.25,176.25 h3" stroke="#ff22dd" stroke-width="1.2" fill="none"/>
<path d="M163.37,179.13 V181.61 M161.87,179.13 h3 M161.87,181.61 h3" stroke="#ff22dd" stroke-width="1.2" fill="none"/>
<path d="M173.99,186.26 V188.74 M172.49,186.26 h3 M172.49,188.74 h3" stroke="#ff22dd" stroke-width="1.2" fill="none"/>
<path d="M187.26,192.09 V195.81 M185.76,192.09 h3 M185.76,195.81 h3" stroke="#ff22dd" stroke-width="1.2" fill="none"/>
<path d="M203.19,204.29 V208.01 M201.69,204.29 h3 M201.69,208.01 h3" stroke="#ff22dd" stroke-width="1.2" fill="none"/>
<path d="M221.78,214.57 V218.29 M220.28,214.57 h3 M220.28,218.29 h3" stroke="#ff22dd" stroke-width="1.2" fill="none"/>
<path d="M245.68,227.50 V231.22 M244.18,227.50 h3 M244.18,231.22 h3" stroke="#ff22dd" stroke-width="1.2" fill="none"/>
<path d="M272.23,241.75 V247.95 M270.73,241.75 h3 M270.73,247.95 h3" stroke="#ff22dd" stroke-width="1.2" fill="none"/>
<path d="M298.78,252.25 V258.45 M297.28,252.25 h3 M297.28,258.45 h3" stroke="#ff22dd" stroke-width="1.2" fill="none"/>
<path d="M338.60,270.75 V278.19 M337.10,270.75 h3 M337.10,278.19 h3" stroke="#ff22dd" stroke-width="1.2" fill="none"/>
</g>
<g clip-path="url(#cu)">
<path d="M57.17,130.71 L67.79,136.65 L78.41,141.20 L89.03,145.28 L99.65,149.27 L110.27,154.24 L120.89,158.86 L131.51,162.88 L142.13,169.56 L152.75,174.98 L163.37,179.35 L173.99,185.92 L187.26,192.78 L203.19,205.93 L221.78,213.05 L245.68,224.64 L272.23,236.48 L298.78,250.57 L338.60,270.88" fill="none" stroke="#11bb11" stroke-width="1.4" stroke-dasharray="2.6,1.3" stroke-linejoin="round"/>
<path d="M57.17,129.94 V131.49 M55.67,129.94 h3 M55.67,131.49 h3" stroke="#11bb11" stroke-width="1.2" fill="none"/>
<path d="M67.79,135.88 V137.43 M66.29,135.88 h3 M66.29,137.43 h3" stroke="#11bb11" stroke-width="1.2" fill="none"/>
<path d="M78.41,140.43 V141.98 M76.91,140.43 h3 M76.91,141.98 h3" stroke="#11bb11" stroke-width="1.2" fill="none"/>
<path d="M89.03,144.51 V146.06 M87.53,144.51 h3 M87.53,146.06 h3" stroke="#11bb11" stroke-width="1.2" fill="none"/>
<path d="M99.65,148.50 V150.05 M98.15,148.50 h3 M98.15,150.05 h3" stroke="#11bb11" stroke-width="1.2" fill="none"/>
<path d="M110.27,153.47 V155.02 M108.77,153.47 h3 M108.77,155.02 h3" stroke="#11bb11" stroke-width="1.2" fill="none"/>
<path d="M120.89,158.09 V159.64 M119.39,158.09 h3 M119.39,159.64 h3" stroke="#11bb11" stroke-width="1.2" fill="none"/>
<path d="M131.51,161.64 V164.12 M130.01,161.64 h3 M130.01,164.12 h3" stroke="#11bb11" stroke-width="1.2" fill="none"/>
<path d="M142.13,168.32 V170.80 M140.63,168.32 h3 M140.63,170.80 h3" stroke="#11bb11" stroke-width="1.2" fill="none"/>
<path d="M152.75,173.74 V176.22 M151.25,173.74 h3 M151.25,176.22 h3" stroke="#11bb11" stroke-width="1.2" fill="none"/>
<path d="M163.37,178.11 V180.59 M161.87,178.11 h3 M161.87,180.59 h3" stroke="#11bb11" stroke-width="1.2" fill="none"/>
<path d="M173.99,184.68 V187.16 M172.49,184.68 h3 M172.49,187.16 h3" stroke="#11bb11" stroke-width="1.2" fill="none"/>
<path d="M187.26,190.92 V194.64 M185.76,190.92 h3 M185.76,194.64 h3" stroke="#11bb11" stroke-width="1.2" fill="none"/>
<path d="M203.19,204.07 V207.79 M201.69,204.07 h3 M201.69,207.79 h3" stroke="#11bb11" stroke-width="1.2" fill="none"/>
<path d="M221.78,211.19 V214.91 M220.28,211.19 h3 M220.28,214.91 h3" stroke="#11bb11" stroke-width="1.2" fill="none"/>
<path d="M245.68,222.78 V226.50 M244.18,222.78 h3 M244.18,226.50 h3" stroke="#11bb11" stroke-width="1.2" fill="none"/>
<path d="M272.23,233.38 V239.58 M270.73,233.38 h3 M270.73,239.58 h3" stroke="#11bb11" stroke-width="1.2" fill="none"/>
<path d="M298.78,247.47 V253.67 M297.28,247.47 h3 M297.28,253.67 h3" stroke="#11bb11" stroke-width="1.2" fill="none"/>
<path d="M338.60,267.16 V274.60 M337.10,267.16 h3 M337.10,274.60 h3" stroke="#11bb11" stroke-width="1.2" fill="none"/>
</g>
<path d="M57.17,128.01 L59.47,132.81 L54.87,132.81 Z" fill="#fff" stroke="#11bb11" stroke-width="1.2"/>
<path d="M67.79,133.95 L70.09,138.75 L65.49,138.75 Z" fill="#fff" stroke="#11bb11" stroke-width="1.2"/>
<path d="M78.41,138.50 L80.71,143.30 L76.11,143.30 Z" fill="#fff" stroke="#11bb11" stroke-width="1.2"/>
<path d="M89.03,142.58 L91.33,147.38 L86.73,147.38 Z" fill="#fff" stroke="#11bb11" stroke-width="1.2"/>
<path d="M99.65,146.57 L101.95,151.37 L97.35,151.37 Z" fill="#fff" stroke="#11bb11" stroke-width="1.2"/>
<path d="M110.27,151.54 L112.57,156.34 L107.97,156.34 Z" fill="#fff" stroke="#11bb11" stroke-width="1.2"/>
<path d="M120.89,156.16 L123.19,160.96 L118.59,160.96 Z" fill="#fff" stroke="#11bb11" stroke-width="1.2"/>
<path d="M131.51,160.18 L133.81,164.98 L129.21,164.98 Z" fill="#fff" stroke="#11bb11" stroke-width="1.2"/>
<path d="M142.13,166.86 L144.43,171.66 L139.83,171.66 Z" fill="#fff" stroke="#11bb11" stroke-width="1.2"/>
<path d="M152.75,172.28 L155.05,177.08 L150.45,177.08 Z" fill="#fff" stroke="#11bb11" stroke-width="1.2"/>
<path d="M163.37,176.65 L165.67,181.45 L161.07,181.45 Z" fill="#fff" stroke="#11bb11" stroke-width="1.2"/>
<path d="M173.99,183.22 L176.29,188.02 L171.69,188.02 Z" fill="#fff" stroke="#11bb11" stroke-width="1.2"/>
<path d="M187.26,190.08 L189.56,194.88 L184.96,194.88 Z" fill="#fff" stroke="#11bb11" stroke-width="1.2"/>
<path d="M203.19,203.23 L205.50,208.03 L200.89,208.03 Z" fill="#fff" stroke="#11bb11" stroke-width="1.2"/>
<path d="M221.78,210.35 L224.08,215.15 L219.48,215.15 Z" fill="#fff" stroke="#11bb11" stroke-width="1.2"/>
<path d="M245.68,221.94 L247.98,226.74 L243.38,226.74 Z" fill="#fff" stroke="#11bb11" stroke-width="1.2"/>
<path d="M272.23,233.78 L274.53,238.58 L269.93,238.58 Z" fill="#fff" stroke="#11bb11" stroke-width="1.2"/>
<path d="M298.78,247.87 L301.08,252.67 L296.48,252.67 Z" fill="#fff" stroke="#11bb11" stroke-width="1.2"/>
<path d="M338.60,268.18 L340.90,272.98 L336.30,272.98 Z" fill="#fff" stroke="#11bb11" stroke-width="1.2"/>
<rect x="73.70" y="208.60" width="5.4" height="5.2" fill="#000"/>
<line x1="64" y1="224.15" x2="89" y2="224.15" stroke="#0000ff" stroke-width="1.0"/>
<path d="M76.60,221.15 L79.40,226.15 L73.80,226.15 Z" fill="#0000ff"/>
<line x1="64" y1="237.10" x2="89" y2="237.10" stroke="#ff0000" stroke-width="1.7"/>
<line x1="64" y1="250.05" x2="89" y2="250.05" stroke="#ff3399" stroke-width="2.0" stroke-dasharray="3,1.2"/>
<line x1="64" y1="263.00" x2="89" y2="263.00" stroke="#ff55dd" stroke-width="2.0" stroke-dasharray="1,1"/>
<line x1="64" y1="275.95" x2="89" y2="275.95" stroke="#22cc22" stroke-width="1.0" stroke-dasharray="3,1.2"/>
<path d="M76.60,273.25 L78.90,278.15 L74.30,278.15 Z" fill="#fff" stroke="#22cc22" stroke-width="1.1"/>
<line x1="45.60" y1="313.99" x2="51.10" y2="313.99" stroke="#000" stroke-width="0.9"/>
<line x1="371.00" y1="313.99" x2="365.50" y2="313.99" stroke="#000" stroke-width="0.9"/>
<line x1="45.60" y1="309.81" x2="51.10" y2="309.81" stroke="#000" stroke-width="0.9"/>
<line x1="371.00" y1="309.81" x2="365.50" y2="309.81" stroke="#000" stroke-width="0.9"/>
<line x1="45.60" y1="306.18" x2="51.10" y2="306.18" stroke="#000" stroke-width="0.9"/>
<line x1="371.00" y1="306.18" x2="365.50" y2="306.18" stroke="#000" stroke-width="0.9"/>
<line x1="45.60" y1="302.98" x2="51.10" y2="302.98" stroke="#000" stroke-width="0.9"/>
<line x1="371.00" y1="302.98" x2="365.50" y2="302.98" stroke="#000" stroke-width="0.9"/>
<line x1="45.60" y1="300.12" x2="56.60" y2="300.12" stroke="#000" stroke-width="0.9"/>
<line x1="371.00" y1="300.12" x2="360.00" y2="300.12" stroke="#000" stroke-width="0.9"/>
<line x1="45.60" y1="281.30" x2="51.10" y2="281.30" stroke="#000" stroke-width="0.9"/>
<line x1="371.00" y1="281.30" x2="365.50" y2="281.30" stroke="#000" stroke-width="0.9"/>
<line x1="45.60" y1="270.29" x2="51.10" y2="270.29" stroke="#000" stroke-width="0.9"/>
<line x1="371.00" y1="270.29" x2="365.50" y2="270.29" stroke="#000" stroke-width="0.9"/>
<line x1="45.60" y1="262.47" x2="51.10" y2="262.47" stroke="#000" stroke-width="0.9"/>
<line x1="371.00" y1="262.47" x2="365.50" y2="262.47" stroke="#000" stroke-width="0.9"/>
<line x1="45.60" y1="256.41" x2="51.10" y2="256.41" stroke="#000" stroke-width="0.9"/>
<line x1="371.00" y1="256.41" x2="365.50" y2="256.41" stroke="#000" stroke-width="0.9"/>
<line x1="45.60" y1="251.46" x2="51.10" y2="251.46" stroke="#000" stroke-width="0.9"/>
<line x1="371.00" y1="251.46" x2="365.50" y2="251.46" stroke="#000" stroke-width="0.9"/>
<line x1="45.60" y1="247.28" x2="51.10" y2="247.28" stroke="#000" stroke-width="0.9"/>
<line x1="371.00" y1="247.28" x2="365.50" y2="247.28" stroke="#000" stroke-width="0.9"/>
<line x1="45.60" y1="243.65" x2="51.10" y2="243.65" stroke="#000" stroke-width="0.9"/>
<line x1="371.00" y1="243.65" x2="365.50" y2="243.65" stroke="#000" stroke-width="0.9"/>
<line x1="45.60" y1="240.45" x2="51.10" y2="240.45" stroke="#000" stroke-width="0.9"/>
<line x1="371.00" y1="240.45" x2="365.50" y2="240.45" stroke="#000" stroke-width="0.9"/>
<line x1="45.60" y1="237.59" x2="56.60" y2="237.59" stroke="#000" stroke-width="0.9"/>
<line x1="371.00" y1="237.59" x2="360.00" y2="237.59" stroke="#000" stroke-width="0.9"/>
<line x1="45.60" y1="218.77" x2="51.10" y2="218.77" stroke="#000" stroke-width="0.9"/>
<line x1="371.00" y1="218.77" x2="365.50" y2="218.77" stroke="#000" stroke-width="0.9"/>
<line x1="45.60" y1="207.76" x2="51.10" y2="207.76" stroke="#000" stroke-width="0.9"/>
<line x1="371.00" y1="207.76" x2="365.50" y2="207.76" stroke="#000" stroke-width="0.9"/>
<line x1="45.60" y1="199.94" x2="51.10" y2="199.94" stroke="#000" stroke-width="0.9"/>
<line x1="371.00" y1="199.94" x2="365.50" y2="199.94" stroke="#000" stroke-width="0.9"/>
<line x1="45.60" y1="193.88" x2="51.10" y2="193.88" stroke="#000" stroke-width="0.9"/>
<line x1="371.00" y1="193.88" x2="365.50" y2="193.88" stroke="#000" stroke-width="0.9"/>
<line x1="45.60" y1="188.93" x2="51.10" y2="188.93" stroke="#000" stroke-width="0.9"/>
<line x1="371.00" y1="188.93" x2="365.50" y2="188.93" stroke="#000" stroke-width="0.9"/>
<line x1="45.60" y1="184.75" x2="51.10" y2="184.75" stroke="#000" stroke-width="0.9"/>
<line x1="371.00" y1="184.75" x2="365.50" y2="184.75" stroke="#000" stroke-width="0.9"/>
<line x1="45.60" y1="181.12" x2="51.10" y2="181.12" stroke="#000" stroke-width="0.9"/>
<line x1="371.00" y1="181.12" x2="365.50" y2="181.12" stroke="#000" stroke-width="0.9"/>
<line x1="45.60" y1="177.92" x2="51.10" y2="177.92" stroke="#000" stroke-width="0.9"/>
<line x1="371.00" y1="177.92" x2="365.50" y2="177.92" stroke="#000" stroke-width="0.9"/>
<line x1="45.60" y1="175.06" x2="56.60" y2="175.06" stroke="#000" stroke-width="0.9"/>
<line x1="371.00" y1="175.06" x2="360.00" y2="175.06" stroke="#000" stroke-width="0.9"/>
<line x1="45.60" y1="156.24" x2="51.10" y2="156.24" stroke="#000" stroke-width="0.9"/>
<line x1="371.00" y1="156.24" x2="365.50" y2="156.24" stroke="#000" stroke-width="0.9"/>
<line x1="45.60" y1="145.23" x2="51.10" y2="145.23" stroke="#000" stroke-width="0.9"/>
<line x1="371.00" y1="145.23" x2="365.50" y2="145.23" stroke="#000" stroke-width="0.9"/>
<line x1="45.60" y1="137.41" x2="51.10" y2="137.41" stroke="#000" stroke-width="0.9"/>
<line x1="371.00" y1="137.41" x2="365.50" y2="137.41" stroke="#000" stroke-width="0.9"/>
<line x1="45.60" y1="131.35" x2="51.10" y2="131.35" stroke="#000" stroke-width="0.9"/>
<line x1="371.00" y1="131.35" x2="365.50" y2="131.35" stroke="#000" stroke-width="0.9"/>
<line x1="45.60" y1="126.40" x2="51.10" y2="126.40" stroke="#000" stroke-width="0.9"/>
<line x1="371.00" y1="126.40" x2="365.50" y2="126.40" stroke="#000" stroke-width="0.9"/>
<line x1="45.60" y1="122.22" x2="51.10" y2="122.22" stroke="#000" stroke-width="0.9"/>
<line x1="371.00" y1="122.22" x2="365.50" y2="122.22" stroke="#000" stroke-width="0.9"/>
<line x1="45.60" y1="118.59" x2="51.10" y2="118.59" stroke="#000" stroke-width="0.9"/>
<line x1="371.00" y1="118.59" x2="365.50" y2="118.59" stroke="#000" stroke-width="0.9"/>
<line x1="45.60" y1="115.39" x2="51.10" y2="115.39" stroke="#000" stroke-width="0.9"/>
<line x1="371.00" y1="115.39" x2="365.50" y2="115.39" stroke="#000" stroke-width="0.9"/>
<line x1="45.60" y1="112.53" x2="56.60" y2="112.53" stroke="#000" stroke-width="0.9"/>
<line x1="371.00" y1="112.53" x2="360.00" y2="112.53" stroke="#000" stroke-width="0.9"/>
<line x1="45.60" y1="93.71" x2="51.10" y2="93.71" stroke="#000" stroke-width="0.9"/>
<line x1="371.00" y1="93.71" x2="365.50" y2="93.71" stroke="#000" stroke-width="0.9"/>
<line x1="45.60" y1="82.70" x2="51.10" y2="82.70" stroke="#000" stroke-width="0.9"/>
<line x1="371.00" y1="82.70" x2="365.50" y2="82.70" stroke="#000" stroke-width="0.9"/>
<line x1="45.60" y1="74.88" x2="51.10" y2="74.88" stroke="#000" stroke-width="0.9"/>
<line x1="371.00" y1="74.88" x2="365.50" y2="74.88" stroke="#000" stroke-width="0.9"/>
<line x1="45.60" y1="68.82" x2="51.10" y2="68.82" stroke="#000" stroke-width="0.9"/>
<line x1="371.00" y1="68.82" x2="365.50" y2="68.82" stroke="#000" stroke-width="0.9"/>
<line x1="45.60" y1="63.87" x2="51.10" y2="63.87" stroke="#000" stroke-width="0.9"/>
<line x1="371.00" y1="63.87" x2="365.50" y2="63.87" stroke="#000" stroke-width="0.9"/>
<line x1="45.60" y1="59.69" x2="51.10" y2="59.69" stroke="#000" stroke-width="0.9"/>
<line x1="371.00" y1="59.69" x2="365.50" y2="59.69" stroke="#000" stroke-width="0.9"/>
<line x1="45.60" y1="56.06" x2="51.10" y2="56.06" stroke="#000" stroke-width="0.9"/>
<line x1="371.00" y1="56.06" x2="365.50" y2="56.06" stroke="#000" stroke-width="0.9"/>
<line x1="45.60" y1="52.86" x2="51.10" y2="52.86" stroke="#000" stroke-width="0.9"/>
<line x1="371.00" y1="52.86" x2="365.50" y2="52.86" stroke="#000" stroke-width="0.9"/>
<line x1="45.60" y1="50.00" x2="56.60" y2="50.00" stroke="#000" stroke-width="0.9"/>
<line x1="371.00" y1="50.00" x2="360.00" y2="50.00" stroke="#000" stroke-width="0.9"/>
<line x1="45.60" y1="31.18" x2="51.10" y2="31.18" stroke="#000" stroke-width="0.9"/>
<line x1="371.00" y1="31.18" x2="365.50" y2="31.18" stroke="#000" stroke-width="0.9"/>
<line x1="45.60" y1="20.17" x2="51.10" y2="20.17" stroke="#000" stroke-width="0.9"/>
<line x1="371.00" y1="20.17" x2="365.50" y2="20.17" stroke="#000" stroke-width="0.9"/>
<line x1="45.60" y1="458.30" x2="53.10" y2="458.30" stroke="#000" stroke-width="0.9"/>
<line x1="371.00" y1="458.30" x2="363.50" y2="458.30" stroke="#000" stroke-width="0.9"/>
<line x1="45.60" y1="442.33" x2="51.10" y2="442.33" stroke="#000" stroke-width="0.9"/>
<line x1="371.00" y1="442.33" x2="365.50" y2="442.33" stroke="#000" stroke-width="0.9"/>
<line x1="45.60" y1="428.83" x2="51.10" y2="428.83" stroke="#000" stroke-width="0.9"/>
<line x1="371.00" y1="428.83" x2="365.50" y2="428.83" stroke="#000" stroke-width="0.9"/>
<line x1="45.60" y1="417.14" x2="51.10" y2="417.14" stroke="#000" stroke-width="0.9"/>
<line x1="371.00" y1="417.14" x2="365.50" y2="417.14" stroke="#000" stroke-width="0.9"/>
<line x1="45.60" y1="406.83" x2="51.10" y2="406.83" stroke="#000" stroke-width="0.9"/>
<line x1="371.00" y1="406.83" x2="365.50" y2="406.83" stroke="#000" stroke-width="0.9"/>
<line x1="45.60" y1="397.60" x2="53.10" y2="397.60" stroke="#000" stroke-width="0.9"/>
<line x1="371.00" y1="397.60" x2="363.50" y2="397.60" stroke="#000" stroke-width="0.9"/>
<line x1="45.60" y1="389.25" x2="51.10" y2="389.25" stroke="#000" stroke-width="0.9"/>
<line x1="371.00" y1="389.25" x2="365.50" y2="389.25" stroke="#000" stroke-width="0.9"/>
<line x1="45.60" y1="381.63" x2="51.10" y2="381.63" stroke="#000" stroke-width="0.9"/>
<line x1="371.00" y1="381.63" x2="365.50" y2="381.63" stroke="#000" stroke-width="0.9"/>
<line x1="45.60" y1="374.62" x2="51.10" y2="374.62" stroke="#000" stroke-width="0.9"/>
<line x1="371.00" y1="374.62" x2="365.50" y2="374.62" stroke="#000" stroke-width="0.9"/>
<line x1="45.60" y1="368.14" x2="51.10" y2="368.14" stroke="#000" stroke-width="0.9"/>
<line x1="371.00" y1="368.14" x2="365.50" y2="368.14" stroke="#000" stroke-width="0.9"/>
<line x1="45.60" y1="362.09" x2="53.10" y2="362.09" stroke="#000" stroke-width="0.9"/>
<line x1="371.00" y1="362.09" x2="363.50" y2="362.09" stroke="#000" stroke-width="0.9"/>
<line x1="45.60" y1="356.44" x2="51.10" y2="356.44" stroke="#000" stroke-width="0.9"/>
<line x1="371.00" y1="356.44" x2="365.50" y2="356.44" stroke="#000" stroke-width="0.9"/>
<line x1="45.60" y1="351.13" x2="51.10" y2="351.13" stroke="#000" stroke-width="0.9"/>
<line x1="371.00" y1="351.13" x2="365.50" y2="351.13" stroke="#000" stroke-width="0.9"/>
<line x1="45.60" y1="346.13" x2="51.10" y2="346.13" stroke="#000" stroke-width="0.9"/>
<line x1="371.00" y1="346.13" x2="365.50" y2="346.13" stroke="#000" stroke-width="0.9"/>
<line x1="45.60" y1="341.39" x2="51.10" y2="341.39" stroke="#000" stroke-width="0.9"/>
<line x1="371.00" y1="341.39" x2="365.50" y2="341.39" stroke="#000" stroke-width="0.9"/>
<line x1="45.60" y1="336.90" x2="53.10" y2="336.90" stroke="#000" stroke-width="0.9"/>
<line x1="371.00" y1="336.90" x2="363.50" y2="336.90" stroke="#000" stroke-width="0.9"/>
<line x1="45.60" y1="332.63" x2="51.10" y2="332.63" stroke="#000" stroke-width="0.9"/>
<line x1="371.00" y1="332.63" x2="365.50" y2="332.63" stroke="#000" stroke-width="0.9"/>
<line x1="45.60" y1="328.55" x2="51.10" y2="328.55" stroke="#000" stroke-width="0.9"/>
<line x1="371.00" y1="328.55" x2="365.50" y2="328.55" stroke="#000" stroke-width="0.9"/>
<line x1="45.60" y1="324.66" x2="51.10" y2="324.66" stroke="#000" stroke-width="0.9"/>
<line x1="371.00" y1="324.66" x2="365.50" y2="324.66" stroke="#000" stroke-width="0.9"/>
<line x1="45.60" y1="320.94" x2="51.10" y2="320.94" stroke="#000" stroke-width="0.9"/>
<line x1="371.00" y1="320.94" x2="365.50" y2="320.94" stroke="#000" stroke-width="0.9"/>
<line x1="73.10" y1="17.60" x2="73.10" y2="21.60" stroke="#000" stroke-width="0.9"/>
<line x1="73.10" y1="317.40" x2="73.10" y2="313.40" stroke="#000" stroke-width="0.9"/>
<line x1="73.10" y1="317.40" x2="73.10" y2="320.10" stroke="#000" stroke-width="0.9"/>
<line x1="73.10" y1="477.84" x2="73.10" y2="475.14" stroke="#000" stroke-width="0.9"/>
<line x1="99.65" y1="17.60" x2="99.65" y2="21.60" stroke="#000" stroke-width="0.9"/>
<line x1="99.65" y1="317.40" x2="99.65" y2="313.40" stroke="#000" stroke-width="0.9"/>
<line x1="99.65" y1="317.40" x2="99.65" y2="320.10" stroke="#000" stroke-width="0.9"/>
<line x1="99.65" y1="477.84" x2="99.65" y2="475.14" stroke="#000" stroke-width="0.9"/>
<line x1="126.20" y1="17.60" x2="126.20" y2="25.60" stroke="#000" stroke-width="0.9"/>
<line x1="126.20" y1="317.40" x2="126.20" y2="309.40" stroke="#000" stroke-width="0.9"/>
<line x1="126.20" y1="317.40" x2="126.20" y2="322.40" stroke="#000" stroke-width="0.9"/>
<line x1="126.20" y1="477.84" x2="126.20" y2="472.84" stroke="#000" stroke-width="0.9"/>
<line x1="152.75" y1="17.60" x2="152.75" y2="21.60" stroke="#000" stroke-width="0.9"/>
<line x1="152.75" y1="317.40" x2="152.75" y2="313.40" stroke="#000" stroke-width="0.9"/>
<line x1="152.75" y1="317.40" x2="152.75" y2="320.10" stroke="#000" stroke-width="0.9"/>
<line x1="152.75" y1="477.84" x2="152.75" y2="475.14" stroke="#000" stroke-width="0.9"/>
<line x1="179.30" y1="17.60" x2="179.30" y2="21.60" stroke="#000" stroke-width="0.9"/>
<line x1="179.30" y1="317.40" x2="179.30" y2="313.40" stroke="#000" stroke-width="0.9"/>
<line x1="179.30" y1="317.40" x2="179.30" y2="320.10" stroke="#000" stroke-width="0.9"/>
<line x1="179.30" y1="477.84" x2="179.30" y2="475.14" stroke="#000" stroke-width="0.9"/>
<line x1="205.85" y1="17.60" x2="205.85" y2="21.60" stroke="#000" stroke-width="0.9"/>
<line x1="205.85" y1="317.40" x2="205.85" y2="313.40" stroke="#000" stroke-width="0.9"/>
<line x1="205.85" y1="317.40" x2="205.85" y2="320.10" stroke="#000" stroke-width="0.9"/>
<line x1="205.85" y1="477.84" x2="205.85" y2="475.14" stroke="#000" stroke-width="0.9"/>
<line x1="232.40" y1="17.60" x2="232.40" y2="25.60" stroke="#000" stroke-width="0.9"/>
<line x1="232.40" y1="317.40" x2="232.40" y2="309.40" stroke="#000" stroke-width="0.9"/>
<line x1="232.40" y1="317.40" x2="232.40" y2="322.40" stroke="#000" stroke-width="0.9"/>
<line x1="232.40" y1="477.84" x2="232.40" y2="472.84" stroke="#000" stroke-width="0.9"/>
<line x1="258.95" y1="17.60" x2="258.95" y2="21.60" stroke="#000" stroke-width="0.9"/>
<line x1="258.95" y1="317.40" x2="258.95" y2="313.40" stroke="#000" stroke-width="0.9"/>
<line x1="258.95" y1="317.40" x2="258.95" y2="320.10" stroke="#000" stroke-width="0.9"/>
<line x1="258.95" y1="477.84" x2="258.95" y2="475.14" stroke="#000" stroke-width="0.9"/>
<line x1="285.50" y1="17.60" x2="285.50" y2="21.60" stroke="#000" stroke-width="0.9"/>
<line x1="285.50" y1="317.40" x2="285.50" y2="313.40" stroke="#000" stroke-width="0.9"/>
<line x1="285.50" y1="317.40" x2="285.50" y2="320.10" stroke="#000" stroke-width="0.9"/>
<line x1="285.50" y1="477.84" x2="285.50" y2="475.14" stroke="#000" stroke-width="0.9"/>
<line x1="312.05" y1="17.60" x2="312.05" y2="21.60" stroke="#000" stroke-width="0.9"/>
<line x1="312.05" y1="317.40" x2="312.05" y2="313.40" stroke="#000" stroke-width="0.9"/>
<line x1="312.05" y1="317.40" x2="312.05" y2="320.10" stroke="#000" stroke-width="0.9"/>
<line x1="312.05" y1="477.84" x2="312.05" y2="475.14" stroke="#000" stroke-width="0.9"/>
<line x1="338.60" y1="17.60" x2="338.60" y2="25.60" stroke="#000" stroke-width="0.9"/>
<line x1="338.60" y1="317.40" x2="338.60" y2="309.40" stroke="#000" stroke-width="0.9"/>
<line x1="338.60" y1="317.40" x2="338.60" y2="322.40" stroke="#000" stroke-width="0.9"/>
<line x1="338.60" y1="477.84" x2="338.60" y2="472.84" stroke="#000" stroke-width="0.9"/>
<line x1="365.15" y1="17.60" x2="365.15" y2="21.60" stroke="#000" stroke-width="0.9"/>
<line x1="365.15" y1="317.40" x2="365.15" y2="313.40" stroke="#000" stroke-width="0.9"/>
<line x1="365.15" y1="317.40" x2="365.15" y2="320.10" stroke="#000" stroke-width="0.9"/>
<line x1="365.15" y1="477.84" x2="365.15" y2="475.14" stroke="#000" stroke-width="0.9"/>
<rect x="45.6" y="17.6" width="325.40" height="299.80" fill="none" stroke="#000" stroke-width="1.3"/>
<rect x="45.6" y="317.4" width="325.40" height="160.44" fill="none" stroke="#000" stroke-width="1.3"/>
<line x1="44.95" y1="477.84" x2="371.65" y2="477.84" stroke="#000" stroke-width="1.6"/>
<text x="51.00" y="13.40" font-size="12.4" text-anchor="start" fill="#000" >13000 GeV</text>
<text x="116.10" y="13.40" font-size="12.4" text-anchor="start" fill="#000" >pp</text>
<text x="366.90" y="14.40" font-size="12.4" text-anchor="end" fill="#000" >Soft QCD</text>
<text x="33.50" y="55.20" font-size="11" text-anchor="end">10</text>
<text x="33.40" y="50.60" font-size="7">−</text><text x="37.00" y="50.60" font-size="7">1</text>
<text x="31.50" y="117.73" font-size="11" text-anchor="end">10</text>
<text x="31.40" y="113.13" font-size="7">−</text><text x="35.00" y="113.13" font-size="7">2</text>
<text x="31.50" y="180.26" font-size="11" text-anchor="end">10</text>
<text x="31.40" y="175.66" font-size="7">−</text><text x="35.00" y="175.66" font-size="7">3</text>
<text x="31.50" y="242.79" font-size="11" text-anchor="end">10</text>
<text x="31.40" y="238.19" font-size="7">−</text><text x="35.00" y="238.19" font-size="7">4</text>
<text x="31.50" y="305.32" font-size="11" text-anchor="end">10</text>
<text x="31.40" y="300.72" font-size="7">−</text><text x="35.00" y="300.72" font-size="7">5</text>
<text x="38.00" y="341.00" font-size="11.5" text-anchor="end" fill="#000" >2</text>
<text x="373.80" y="341.00" font-size="11.5" text-anchor="start" fill="#000" >2</text>
<text x="38.00" y="401.70" font-size="11.5" text-anchor="end" fill="#000" >1</text>
<text x="373.80" y="401.70" font-size="11.5" text-anchor="start" fill="#000" >1</text>
<text x="38.00" y="462.40" font-size="11.5" text-anchor="end" fill="#000" >0.5</text>
<text x="373.80" y="462.40" font-size="11.5" text-anchor="start" fill="#000" >0.5</text>
<text x="126.20" y="489.00" font-size="11" text-anchor="middle" fill="#000" >2</text>
<text x="232.40" y="489.00" font-size="11" text-anchor="middle" fill="#000" >4</text>
<text x="338.60" y="489.00" font-size="11" text-anchor="middle" fill="#000" >6</text>
<text x="324.5" y="501.8" font-size="12">p</text>
<text x="332.3" y="507.5" font-size="8">T</text>
<text x="372.8" y="501.8" font-size="12.4" text-anchor="end">[GeV]</text>
<text transform="translate(15.20,139.05) rotate(-90)" x="0" y="0" font-size="12" text-anchor="middle" fill="#000">1/N</text>
<text transform="translate(15.60,124.50) rotate(-90)" x="0" y="0" font-size="14" text-anchor="middle" fill="#000">×</text>
<text transform="translate(15.20,113.70) rotate(-90)" x="0" y="0" font-size="12" text-anchor="middle" fill="#000">d</text>
<text transform="translate(9.90,109.20) rotate(-90)" x="0" y="0" font-size="8" text-anchor="middle" fill="#000">2</text>
<text transform="translate(15.20,104.90) rotate(-90)" x="0" y="0" font-size="12" text-anchor="middle" fill="#000">/</text>
<text transform="translate(15.20,101.50) rotate(-90)" x="0" y="0" font-size="12" text-anchor="middle" fill="#000">(</text>
<text transform="translate(15.20,96.65) rotate(-90)" x="0" y="0" font-size="12" text-anchor="middle" fill="#000">d</text>
<text transform="translate(15.20,89.15) rotate(-90)" x="0" y="0" font-size="12" text-anchor="middle" fill="#000">p</text>
<text transform="translate(21.30,82.55) rotate(-90)" x="0" y="0" font-size="7" text-anchor="middle" fill="#000">T</text>
<text transform="translate(15.20,46.60) rotate(-90)" x="0" y="0" font-size="12" text-anchor="middle" fill="#000">dy) [1/GeV]</text>
<g transform="translate(17.9,426.6) rotate(-90)"><text x="0" y="0" font-size="9.8" textLength="60.2" lengthAdjust="spacing">Ratio to ALICE</text></g>
<g transform="translate(380.3,128.1) rotate(-90)"><text x="0" y="0" font-size="9.57" fill="#777">Rivet 4.1.0, ≥ 2.1M events</text></g>
<g transform="translate(380.3,313.0) rotate(-90)"><text x="0" y="0" font-size="9.39" fill="#777">mcplots.cern.ch [arXiv:1306.3436]</text></g>
<text x="145.20" y="45.40" font-size="12" text-anchor="start" fill="#000" >ALICE, 13 TeV</text>
<text x="227.80" y="45.40" font-size="12" text-anchor="middle" fill="#000" >,</text>
<path d="M231.10,38.7 V37.45 H236.50 V38.7 M231.10,42.9 V44.15 H236.50 V42.9" fill="none" stroke="#000" stroke-width="1.05"/>
<path d="M232.20,40.1 V41.6 M232.20,40.85 H235.40 M235.40,40.1 V41.6" fill="none" stroke="#000" stroke-width="0.85"/>
<line x1="237.2" y1="35.45" x2="239.2" y2="35.45" stroke="#000" stroke-width="0.8"/>
<text x="246.70" y="46.40" font-size="12" text-anchor="middle" fill="#000" >+</text>
<text x="256.00" y="46.20" font-size="10" text-anchor="middle" fill="#000" >#</text>
<path d="M261.20,38.7 V37.45 H266.60 V38.7 M261.20,42.9 V44.15 H266.60 V42.9" fill="none" stroke="#000" stroke-width="1.05"/>
<path d="M262.30,40.1 V41.6 M262.30,40.85 H265.50 M265.50,40.1 V41.6" fill="none" stroke="#000" stroke-width="0.85"/>
<line x1="259.5" y1="35.4" x2="267.2" y2="35.4" stroke="#000" stroke-width="0.95"/>
<path d="M267.8,35.0 H271.0 M269.4,33.4 V36.6" fill="none" stroke="#000" stroke-width="0.75"/>
<text x="164.00" y="303.20" font-size="8" text-anchor="start" fill="#999" >(ALICE_2020_I1797443)</text>
<text x="94.30" y="213.20" font-size="9.4" text-anchor="start" fill="#000" >ALICE</text>
<text x="94.30" y="226.15" font-size="9.4" text-anchor="start" fill="#000" >Pythia 8.315 default</text>
<text x="94.30" y="239.10" font-size="9.4" text-anchor="start" fill="#000" >Pythia 8.315 tune-A14-CTEQL1</text>
<text x="94.30" y="252.05" font-size="9.4" text-anchor="start" fill="#000" >Pythia 8.315 tune-A14-MSTW2008LO</text>
<text x="94.30" y="265.00" font-size="9.4" text-anchor="start" fill="#000" >Pythia 8.315 tune-A14-NNPDF2.3LO</text>
<text x="94.30" y="277.95" font-size="9.4" text-anchor="start" fill="#000" >Pythia 8.315 tune-CUETP8S1</text>
</svg></body></html>
